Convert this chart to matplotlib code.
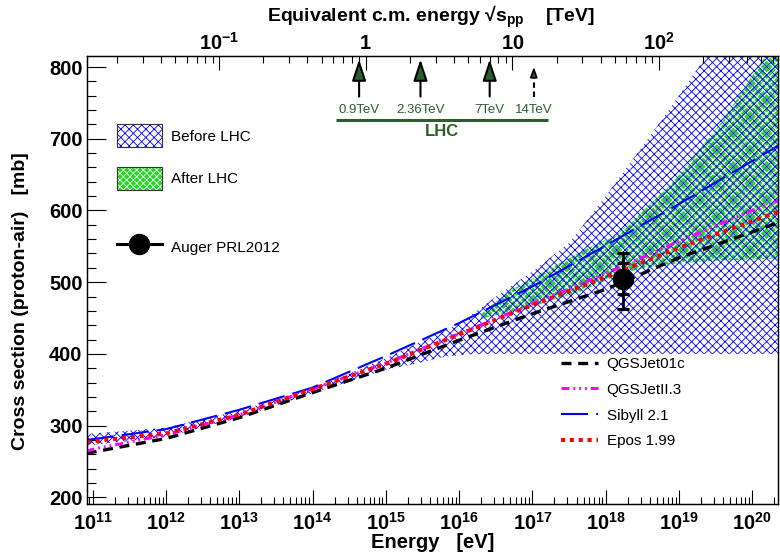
import numpy as np
import matplotlib
matplotlib.use("Agg")
import matplotlib.pyplot as plt
import matplotlib.transforms as mtransforms
from matplotlib.patches import Patch
from matplotlib.lines import Line2D
from matplotlib.legend_handler import HandlerTuple
from matplotlib.ticker import FixedLocator, FixedFormatter, LogLocator, FuncFormatter, MultipleLocator, NullFormatter

plt.rcParams["font.family"] = ["Liberation Sans", "DejaVu Sans"]
plt.rcParams["font.weight"] = "bold"
plt.rcParams["mathtext.fontset"] = "custom"
plt.rcParams["mathtext.rm"] = "Liberation Sans"
plt.rcParams["mathtext.bf"] = "Liberation Sans:bold"
plt.rcParams["mathtext.it"] = "Liberation Sans:italic"
plt.rcParams["hatch.linewidth"] = 0.6

M_PROTON_EV = 0.938e9

# ---- model predictions (proton-air cross section, mb) ----
energy_ev = [8.3e10, 1e11, 1e12, 1e13, 1e14, 1e15, 1e16, 1e17, 1e18, 1e19, 1e20, 2.24e20]
qgsjet01c = [261, 263, 282, 311, 346, 380, 419, 456, 490, 534, 570, 583]
qgsjet2 = [264, 267, 287, 315, 351, 387, 428, 470, 512, 557, 600, 613]
sibyll21 = [280, 281, 295, 322, 353, 397, 443, 494, 551, 609, 669, 690]
epos199 = [277, 278, 289, 315, 351, 386, 427, 468, 507, 548, 585, 598]

# ---- extrapolation bands ----
before_upper_e = [8.3e10, 1e11, 1e12, 1e13, 1e14, 1e15, 1e16, 3.2e16, 1e17, 3.2e17, 1e18, 3.2e18, 1e19, 2e19, 2.24e20]
before_upper = [288, 289, 297, 321, 351, 394, 442, 480, 515, 555, 620, 690, 760, 805, 950]
before_lower_e = [8.3e10, 1e11, 1e12, 1e13, 1e14, 1e15, 2.5e15, 6.3e15, 1.6e16, 2.24e20]
before_lower = [272, 273, 284, 311, 345, 378, 386, 396, 400, 400]

after_upper_e = [2.0e16, 2.4e16, 5.5e16, 1.0e17, 2.95e17, 8.3e17, 1.26e18, 7.6e18, 4.0e19, 1.29e20, 2.24e20]
after_upper = [455, 463, 491, 505, 532, 556, 562, 635, 726, 805, 840]
after_lower_e = [2.0e16, 1.0e17, 4.5e17, 1.74e18, 5.5e18, 3.2e19, 2.24e20]
after_lower = [449, 466, 487, 513, 524, 530, 533]

# ---- Auger measurement ----
auger_energy = 1.74e18
auger_sigma = 505.0
auger_stat = 22.0
auger_syst_up = 28.0
auger_syst_down = 36.0

# ---- LHC energies ----
lhc_sqrt_s_tev = [0.9, 2.36, 7.0, 14.0]
lhc_labels = ["0.9TeV", "2.36TeV", "7TeV", "14TeV"]
lhc_span_tev = [0.63, 17.5]

x_limits = (8.3e10, 2.24e20)
y_limits = (190, 815)
x_decades = [1e11, 1e12, 1e13, 1e14, 1e15, 1e16, 1e17, 1e18, 1e19, 1e20]

BLUE = "#0000ff"
GREEN = "#22d822"
DKGREEN = "#2a5e2a"
BLUE_HATCH = "xxxx"
GREEN_HATCH = "xxxxx"


def sqrt_s_tev(e_ev):
    return np.sqrt(2.0 * M_PROTON_EV * np.asarray(e_ev, dtype=float)) / 1e12


def lab_energy_ev(s_tev):
    return (np.asarray(s_tev, dtype=float) * 1e12) ** 2 / (2.0 * M_PROTON_EV)


def set_hatch_lw(artist, lw):
    if hasattr(artist, "set_hatch_linewidth"):
        artist.set_hatch_linewidth(lw)


fig = plt.figure(figsize=(7.8, 5.57), dpi=100)
ax = fig.add_axes([0.1112, 0.0943, 0.8862, 0.8047])
ax.set_xscale("log")
ax.set_xlim(*x_limits)
ax.set_ylim(*y_limits)

# bands
gx = np.concatenate([after_upper_e, after_lower_e[::-1]])
gy = np.concatenate([after_upper, after_lower[::-1]])
green_band = ax.fill(gx, gy, facecolor=GREEN, edgecolor="white", hatch=GREEN_HATCH, lw=0, zorder=1)[0]
set_hatch_lw(green_band, 0.8)

bx = np.concatenate([before_upper_e, before_lower_e[::-1]])
by = np.concatenate([before_upper, before_lower[::-1]])
blue_band = ax.fill(bx, by, facecolor="none", edgecolor=BLUE, hatch=BLUE_HATCH, lw=0, zorder=2)[0]
set_hatch_lw(blue_band, 0.6)

# model curves
l_qgs1, = ax.plot(energy_ev, qgsjet01c, color="black", lw=2.4, dashes=(3.0, 2.0), zorder=3,
                  label="QGSJet01c")
l_qgs2, = ax.plot(energy_ev, qgsjet2, color="#ff00ff", lw=2.2,
                  dashes=(2.6, 1.3, 0.6, 1.3, 0.6, 1.3, 0.6, 1.3), zorder=3, label="QGSJetII.3")
l_sib, = ax.plot(energy_ev, sibyll21, color=BLUE, lw=1.5, dashes=(13, 3.9), zorder=3,
                 label="Sibyll 2.1")
l_epos, = ax.plot(energy_ev, epos199, color="red", lw=2.9, dashes=(1.0, 1.2), zorder=4,
                  label="Epos 1.99")

# Auger point: total (stat + syst) and statistical error
tot_up = np.hypot(auger_stat, auger_syst_up)
tot_down = np.hypot(auger_stat, auger_syst_down)
ax.errorbar([auger_energy], [auger_sigma], yerr=[[tot_down], [tot_up]], fmt="none",
            ecolor="black", elinewidth=2.0, capsize=4.5, capthick=2.2, zorder=6)
ax.errorbar([auger_energy], [auger_sigma], yerr=[[auger_stat], [auger_stat]], fmt="o",
            color="black", ms=14.4, elinewidth=2.0, capsize=4.5, capthick=2.2, zorder=6)

# axes styling
for sp in ax.spines.values():
    sp.set_linewidth(0.9)

ax.xaxis.set_major_locator(FixedLocator(x_decades))
ax.xaxis.set_minor_locator(LogLocator(base=10, subs=np.arange(2, 10), numticks=30))
ax.xaxis.set_major_formatter(FuncFormatter(
    lambda v, p: r"$\mathbf{10^{%d}}$" % int(round(np.log10(v)))))
ax.xaxis.set_minor_formatter(NullFormatter())
ax.yaxis.set_major_locator(MultipleLocator(100))
ax.yaxis.set_minor_locator(MultipleLocator(20))

ax.tick_params(axis="both", which="both", direction="in", top=False, right=False, colors="black")
ax.tick_params(axis="x", which="major", length=10, width=0.8, labelsize=14.5, pad=5)
ax.tick_params(axis="x", which="minor", length=5, width=0.8)
ax.tick_params(axis="y", which="major", length=13.5, width=0.8, labelsize=14.5, pad=3)
ax.tick_params(axis="y", which="minor", length=6.5, width=0.8)

ax.set_xlabel("Energy   [eV]", fontsize=14.5, fontweight="bold")
ax.xaxis.label.set_va("center")
ax.xaxis.set_label_coords(0.501, -0.0859)
ax.set_ylabel("Cross section (proton-air)   [mb]", fontsize=14, fontweight="bold")
ax.yaxis.label.set_va("center")
ax.yaxis.set_label_coords(-0.0965, 0.454)

# top axis: equivalent centre-of-mass energy
ax2 = ax.twiny()
ax2.set_xscale("log")
ax2.set_xlim(float(sqrt_s_tev(x_limits[0])), float(sqrt_s_tev(x_limits[1])))
ax2.xaxis.set_major_locator(FixedLocator([0.1, 1, 10, 100]))
ax2.xaxis.set_major_formatter(FixedFormatter(
    [r"$\mathbf{10^{-1}}$", r"$\mathbf{1}$", r"$\mathbf{10}$", r"$\mathbf{10^{2}}$"]))
ax2.xaxis.set_minor_locator(LogLocator(base=10, subs=np.arange(2, 10), numticks=30))
ax2.xaxis.set_minor_formatter(NullFormatter())
ax2.tick_params(axis="x", which="both", direction="in")
ax2.tick_params(axis="x", which="major", length=10, width=0.8, labelsize=14.5, pad=2)
ax2.tick_params(axis="x", which="minor", length=5, width=0.8)
ax2.set_xlabel("Equivalent c.m. energy √s$_{\\mathbf{pp}}$    [TeV]", fontsize=14,
               fontweight="bold")
ax2.xaxis.label.set_va("center")
ax2.xaxis.set_label_coords(0.498, 1.088)
for sp in ax2.spines.values():
    sp.set_linewidth(0.9)

# LHC markers
trans = mtransforms.blended_transform_factory(ax.transData, ax.transAxes)
for s, lab in zip(lhc_sqrt_s_tev, lhc_labels):
    e = float(lab_energy_ev(s))
    if s > 10:
        ax.plot([e, e], [0.91, 0.968], transform=trans, color="black", lw=1.5,
                dashes=(2.6, 1.8), zorder=7, clip_on=False)
        ax.annotate("", xy=(e, 0.976), xytext=(e, 0.962), xycoords=trans, textcoords=trans,
                    arrowprops=dict(arrowstyle="-|>,head_length=0.6,head_width=0.22",
                                    lw=1.2, color="black", fc=DKGREEN,
                                    shrinkA=0, shrinkB=0, mutation_scale=10), zorder=7)
    else:
        ax.annotate("", xy=(e, 0.993), xytext=(e, 0.91), xycoords=trans, textcoords=trans,
                    arrowprops=dict(arrowstyle="-|>,head_length=1.3,head_width=0.43",
                                    lw=1.5, color="black", fc=DKGREEN,
                                    shrinkA=0, shrinkB=0, mutation_scale=10), zorder=7)
    ax.text(e, 0.88, lab, transform=trans, ha="center", va="center", fontsize=9.5,
            fontweight="normal", color=DKGREEN, zorder=7)

span_e = lab_energy_ev(lhc_span_tev)
ax.plot(span_e, [0.858, 0.858], transform=trans, color=DKGREEN, lw=2.2, zorder=7,
        solid_capstyle="butt")
ax.text(float(lab_energy_ev(3.3)), 0.833, "LHC", transform=trans, ha="center", va="center",
        fontsize=12, fontweight="bold", color=DKGREEN, zorder=7)

# legends
leg_font = {"size": 11, "weight": "normal"}
h_before = (Patch(facecolor="none", edgecolor=BLUE, hatch=BLUE_HATCH, lw=0),
            Patch(facecolor="none", edgecolor="#333333", lw=0.8))
h_after = (Patch(facecolor=GREEN, edgecolor="white", hatch=GREEN_HATCH, lw=0),
           Patch(facecolor="none", edgecolor="#333333", lw=0.8))
set_hatch_lw(h_before[0], 0.6)
set_hatch_lw(h_after[0], 0.8)
leg1 = ax.legend([h_before, h_after], ["Before LHC", "After LHC"],
                 handler_map={tuple: HandlerTuple(ndivide=1, pad=0)},
                 loc="upper left", bbox_to_anchor=(0.0434, 0.848), frameon=False,
                 prop=leg_font, handlelength=2.95, handleheight=1.9, handletextpad=0.57,
                 labelspacing=1.31, borderpad=0, borderaxespad=0)
ax.add_artist(leg1)

h_auger = Line2D([], [], color="black", lw=2.2, marker="o", ms=14.4)
leg2 = ax.legend([h_auger], ["Auger PRL2012"], loc="upper left",
                 bbox_to_anchor=(0.0434, 0.599), frameon=False, prop=leg_font,
                 handlelength=2.95, handleheight=1.9, handletextpad=0.57,
                 borderpad=0, borderaxespad=0)
ax.add_artist(leg2)

leg3 = ax.legend([l_qgs1, l_qgs2, l_sib, l_epos],
                 ["QGSJet01c", "QGSJetII.3", "Sibyll 2.1", "Epos 1.99"],
                 loc="upper left", bbox_to_anchor=(0.6857, 0.329), frameon=False,
                 prop=leg_font, handlelength=2.46, handletextpad=0.55, labelspacing=0.77,
                 borderpad=0, borderaxespad=0)

fig.savefig("out.png", dpi=100)
